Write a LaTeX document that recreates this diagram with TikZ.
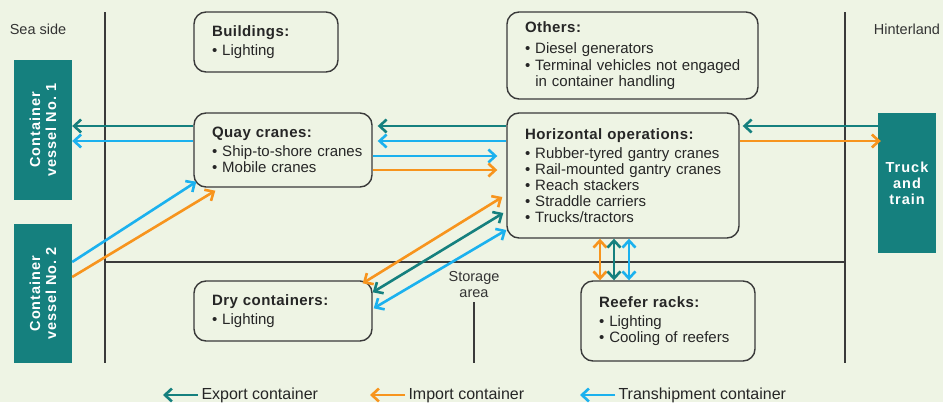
\documentclass[tikz,border=0pt]{standalone}
\usepackage{fontspec}
\setmainfont{Liberation Sans}
\usetikzlibrary{arrows.meta}
\usetikzlibrary{calc}
\definecolor{bgcol}{HTML}{EEF4E4}
\definecolor{linecol}{HTML}{3A3A3A}
\definecolor{tealc}{HTML}{15807E}
\definecolor{orangec}{HTML}{F7941D}
\definecolor{bluec}{HTML}{1BB1EE}
\newcommand\boxtitle[1]{\mbox{\bfseries\addfontfeatures{LetterSpace=3}#1}}
\newcommand\itm[1]{\mbox{\textbullet\ #1}}
\tikzset{
  box/.style={draw=linecol, line width=1.4pt, rounded corners=12pt, fill=bgcol, align=left,
    inner xsep=18pt, inner ysep=0pt, text=black!85, font=\fontsize{15}{16}\selectfont},
  ship/.style={fill=tealc, inner sep=0pt},
  shiptext/.style={text=white, align=center, font=\fontsize{14.5}{16}\selectfont\bfseries\addfontfeatures{LetterSpace=7}},
  side/.style={text=black!80, font=\fontsize{14.5}{16}\selectfont, align=center},
  lgd/.style={text=black!85, font=\fontsize{16}{16}\selectfont, anchor=west},
  flow/.style={line width=2.6pt, -{Straight Barb[length=7pt,width=13pt]}},
  both/.style={line width=2.6pt, {Straight Barb[length=7pt,width=13pt]}-{Straight Barb[length=7pt,width=13pt]}},
  expA/.style={flow, tealc},
  impA/.style={flow, orangec},
  traA/.style={flow, bluec}
}
\begin{document}
\begin{tikzpicture}[x=1pt,y=-1pt]
\fill[bgcol] (0,0) rectangle (943,402);
\useasboundingbox (0,0) rectangle (943,402);
% zones
\draw[linecol, line width=1.3pt] (105,12) -- (105,363);
\draw[linecol, line width=1.3pt] (845,12) -- (845,363);
\draw[linecol, line width=1.3pt] (105,262) -- (845,262);
\draw[linecol, line width=1.3pt] (474,302) -- (474,363);
\node[side] (sea) at (38,29) {Sea side};
\node[side] (hinter) at (907,29) {Hinterland};
\node[side] (storage) at (474,285) {Storage\\area};
% vessels, truck
\node[ship, minimum width=58pt, minimum height=140pt] (vessel1) at (43,130) {};
\node[shiptext, rotate=90] (v1txt) at (vessel1) {Container\\vessel No.~1};
\node[ship, minimum width=58pt, minimum height=139pt] (vessel2) at (43,293.5) {};
\node[shiptext, rotate=90] (v2txt) at (vessel2) {Container\\vessel No.~2};
\node[ship, minimum width=58pt, minimum height=140pt] (truck) at (907,183) {};
\node[shiptext] (trtxt) at (truck) {Truck\\and\\train};
% boxes
\node[box, text width=108pt, minimum height=60pt] (build) at (266,42)
  {\boxtitle{Buildings:}\\[3pt] \itm{Lighting}};
\node[box, text width=215pt, minimum height=87pt, font=\fontsize{15}{16.5}\selectfont] (others) at (632.5,55.5)
  {\boxtitle{Others:}\\[5pt] \itm{Diesel generators}\\ \itm{Terminal vehicles not engaged}\\ \mbox{\phantom{\textbullet\ }in container handling}};
\node[box, text width=142pt, minimum height=74pt] (quay) at (283,150)
  {\boxtitle{Quay cranes:}\\[3pt] \itm{Ship-to-shore cranes}\\ \itm{Mobile cranes}};
\node[box, text width=196pt, minimum height=125pt] (horiz) at (623,175.5)
  {\boxtitle{Horizontal operations:}\\[3pt] \itm{Rubber-tyred gantry cranes}\\ \itm{Rail-mounted gantry cranes}\\ \itm{Reach stackers}\\ \itm{Straddle carriers}\\ \itm{Trucks/tractors}};
\node[box, text width=142pt, minimum height=60pt] (dry) at (283,311)
  {\boxtitle{Dry containers:}\\[3pt] \itm{Lighting}};
\node[box, text width=138pt, minimum height=80pt] (reefer) at (668,321)
  {\boxtitle{Reefer racks:}\\[3pt] \itm{Lighting}\\ \itm{Cooling of reefers}};
% quay side flows
\draw[expA] (quay.west |- 0,126) -- (vessel1.east |- 0,126);
\draw[traA] (quay.west |- 0,141) -- (vessel1.east |- 0,141);
\draw[expA] (horiz.west |- 0,126) -- ($(quay.east |- 0,126)+(5,0)$);
\draw[traA] (horiz.west |- 0,141) -- ($(quay.east |- 0,141)+(5,0)$);
\draw[traA] (quay.east |- 0,156) -- ($(horiz.west |- 0,156)+(-9,0)$);
\draw[impA] (quay.east |- 0,170) -- ($(horiz.west |- 0,170)+(-9,0)$);
\draw[traA] (vessel2.east |- 0,262) -- ($(quay.south west)+(3,-6)$);
\draw[impA] (vessel2.east |- 0,277) -- ($(quay.south west)+(22,3)$);
% hinterland
\draw[expA] (truck.west |- 0,126) -- ($(horiz.east |- 0,126)+(3,0)$);
\draw[impA] (horiz.east |- 0,141) -- ($(truck.west |- 0,141)+(3,0)$);
% storage
\draw[both, orangec] ($(horiz.west |- 0,197)+(-4,0)$) -- ($(dry.north east)+(-10,3)$);
\draw[both, tealc] ($(horiz.west |- 0,213)+(-3,0)$) -- ($(dry.north east)+(0,12)$);
\draw[both, bluec] (horiz.west |- 0,230) -- ($(dry.north east)+(1,28)$);
\draw[both, orangec] (horiz.south -| 600,0) -- (reefer.north -| 600,0);
\draw[both, tealc] (horiz.south -| 614,0) -- (reefer.north -| 614,0);
\draw[both, bluec] (horiz.south -| 629,0) -- (reefer.north -| 629,0);
% legend
\node[lgd] (lgexp) at (198,395) {Export container};
\node[lgd] (lgimp) at (405,395) {Import container};
\node[lgd] (lgtra) at (615,395) {Transhipment container};
\coordinate (lgexpend) at (163,395);
\coordinate (lgimpend) at (370,395);
\coordinate (lgtraend) at (580,395);
\draw[expA] (lgexp.west) -- (lgexpend);
\draw[impA] (lgimp.west) -- (lgimpend);
\draw[traA] (lgtra.west) -- (lgtraend);
\end{tikzpicture}
\end{document}
